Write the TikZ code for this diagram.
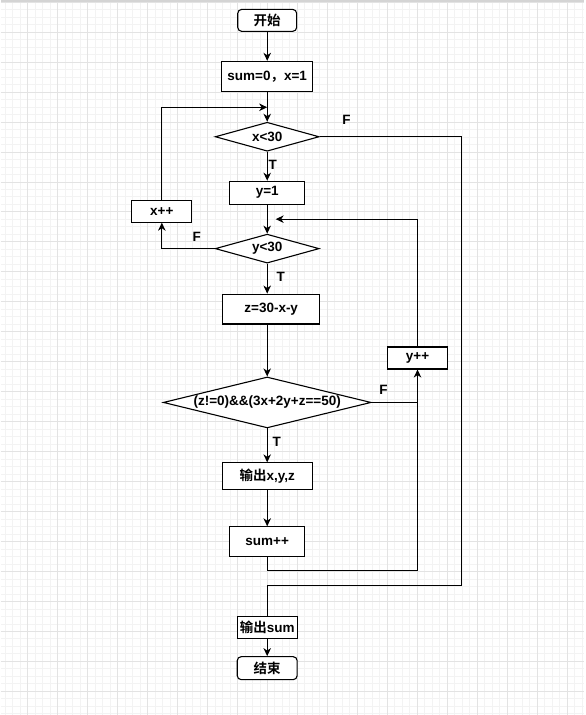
\documentclass[tikz,border=0pt]{standalone}
\usepackage{fontspec}
\setmainfont{Liberation Sans}
\newfontfamily\cjk{Noto Sans CJK SC}[BoldFont={Noto Sans CJK SC Bold}]
\usetikzlibrary{shapes.geometric,arrows.meta}
\definecolor{gridminor}{HTML}{F3F3F3}
\definecolor{gridmajor}{HTML}{E3E3E3}
\definecolor{pageline}{HTML}{D4D4D4}
\def\dtext#1{\makebox[0pt]{#1}}

\begin{document}
\begin{tikzpicture}[
      x=1pt, y=-1pt,
      every node/.style={font=\bfseries\fontsize{13.5}{16}\selectfont},
      box/.style={draw, line width=1.1pt, inner sep=0pt, fill=white},
      term/.style={box, rounded corners=4pt},
      decide/.style={diamond, draw, line width=1.1pt, inner sep=0pt, fill=white},
      flow/.style={line width=1.1pt},
      arr/.style={flow, -{Stealth[length=8pt,width=7.5pt,inset=2.5pt]}},
      tf/.style={inner sep=0pt}
    ]
    \fill[white] (0,0) rectangle (584,715);
    \begin{scope}[shift={(26.7,1.7)}]
      \draw[gridminor, line width=0.8pt, step=7.5pt] (-26.7pt,-713.3pt) grid (557.3pt,1.7pt);
      \draw[gridmajor, line width=0.8pt, step=30pt] (-26.7pt,-713.3pt) grid (557.3pt,1.7pt);
    \end{scope}
    \draw[pageline, line width=2pt] (0,1) -- (584,1);

    \node[term, minimum width=59pt, minimum height=22pt] (start) at (266.5,20) {{\cjk 开始}};
    \node[box, minimum width=91pt, minimum height=30pt] (init) at (266.5,76) {sum=0{\cjk ，}x=1};
    \node[decide, minimum width=104pt, minimum height=29pt] (cx) at (266.5,136.5) {\dtext{x<30}};
    \node[box, minimum width=75pt, minimum height=23pt] (y1) at (266.5,192.5) {y=1};
    \node[box, minimum width=60pt, minimum height=22pt] (xinc) at (161,211) {x++};
    \node[decide, minimum width=104pt, minimum height=29pt] (cy) at (266.5,248.5) {\dtext{y<30}};
    \node[box, minimum width=97pt, minimum height=30pt] (z) at (270.5,309) {z=30-x-y};
    \node[box, minimum width=60pt, minimum height=22pt] (yinc) at (417,358) {y++};
    \node[decide, minimum width=208pt, minimum height=51pt] (cz) at (266.5,402.5) {\dtext{(z!=0)\&\&(3x+2y+z==50)}};
    \node[box, minimum width=90pt, minimum height=27pt] (out) at (266.5,476.5) {{\cjk 输出}x,y,z};
    \node[box, minimum width=75pt, minimum height=30pt] (sumi) at (266.5,542) {sum++};
    \node[box, minimum width=60pt, minimum height=22pt] (outsum) at (266.5,628) {{\cjk 输出}sum};
    \node[term, minimum width=60pt, minimum height=23pt] (stop) at (266.5,668.5) {{\cjk 结束}};

    \node[tf] (fx) at (346,120) {F};
    \node[tf] (tx) at (272,165) {T};
    \node[tf] (fy) at (196,237) {F};
    \node[tf] (ty) at (280,277) {T};
    \node[tf] (fz) at (383,390) {F};
    \node[tf] (tz) at (276,442) {T};

    \coordinate (jx) at (266.5,107);
    \coordinate (rx) at (461,586);
    \coordinate (jy) at (275,219);
    \coordinate (ry) at (417,571);

    \draw[arr] (start) -- (init);
    \draw[arr] (init) -- (cx);
    \draw[arr] (xinc) |- (jx);
    \draw[flow] (cx.east) -| (rx) -| (outsum);
    \draw[arr] (cx) -- (y1);
    \draw[arr] (y1) -- (cy);
    \draw[arr] (cy.west) -| (xinc);
    \draw[arr] (cy.south) -- (cy.south |- z.north);
    \draw[arr] (z.south -| cz.north) -- (cz.north);
    \draw[arr] (cz.east) -| (yinc);
    \draw[arr] (cz) -- (out);
    \draw[arr] (out) -- (sumi);
    \draw[flow] (sumi) |- (ry) -- (ry |- cz.east);
    \draw[arr] (yinc) |- (jy);
    \draw[arr] (outsum) -- (stop);
  \end{tikzpicture}
\end{document}
